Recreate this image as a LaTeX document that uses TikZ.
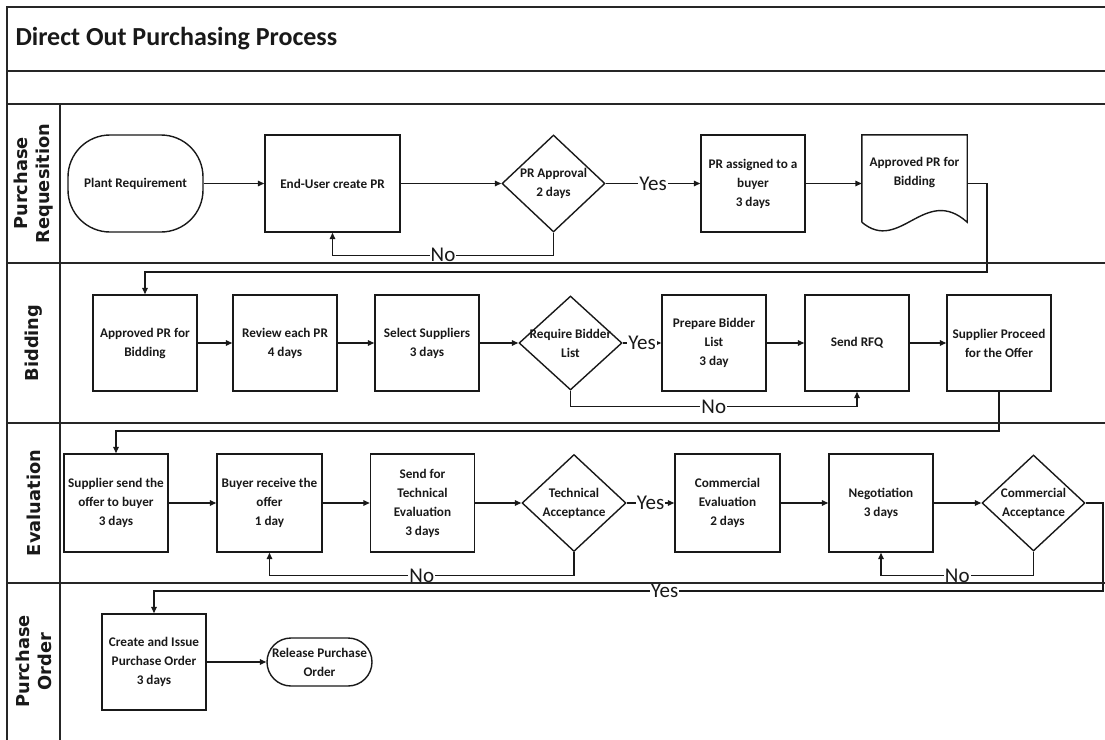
\documentclass[tikz,border=0pt]{standalone}
\usepackage{fontspec}
\newfontfamily\boxfont{Carlito}
\newfontfamily\lanefont{DejaVu Sans}
\usetikzlibrary{arrows.meta,shapes.geometric,calc}

\begin{document}
\begin{tikzpicture}[x=1bp,y=-1bp,
  every node/.style={text=black!90},
  frameline/.style={line width=1.6bp, draw=black!85},
  edge/.style={line width=1.4bp, draw=black!90},
  arr/.style={edge, -{Triangle[length=6.5bp,width=5.5bp]}},
  boxtext/.style={font=\boxfont\bfseries\fontsize{13.2bp}{19bp}\selectfont, align=center},
  proc/.style={boxtext, draw=black!90, line width=1.4bp, rectangle,
    minimum width=104bp, minimum height=96bp, inner sep=1bp},
  term/.style={boxtext, draw=black!90, line width=1.4bp, rectangle,
    inner sep=1bp},
  decision/.style={draw=black!90, line width=1.4bp, diamond, inner sep=0pt,
    minimum width=103bp, minimum height=96bp},
  dtext/.style={boxtext, inner sep=0pt},
  flag/.style={fill=white, inner xsep=1bp, inner ysep=0bp,
    font=\boxfont\fontsize{21bp}{22bp}\selectfont},
  lanetitle/.style={rotate=90, align=center,
    font=\lanefont\bfseries\fontsize{17.8bp}{22bp}\selectfont}
]
\useasboundingbox (0,0) rectangle (1105,740);

% ---------- title ----------
\node[anchor=west, font=\boxfont\bfseries\fontsize{26bp}{30bp}\selectfont]
  (title) at (12,39) {Direct Out Purchasing Process};

% ---------- lane titles ----------
\node[lanetitle] (lanePR)  at (33.5,183.5) {Purchase\\Requesition};
\node[lanetitle] (laneBid) at (33.5,343)   {Bidding};
\node[lanetitle] (laneEv)  at (33.5,503)   {Evaluation};
\node[lanetitle] (lanePO)  at (33.5,661.5) {Purchase\\Order};

% ---------- Purchase Requesition ----------
\node[term, rounded corners=42bp, minimum width=135bp, minimum height=97bp]
  (plant) at (135.5,183.5) {Plant Requirement};
\node[proc, minimum width=135bp, minimum height=97bp]
  (enduser) at (332.5,183.5) {End-User create PR};
\node[decision, minimum height=97bp] (prapp) at (553.5,183.5) {};
\node[dtext] (prappT) at (prapp) {PR Approval\\2 days};
\node[proc, minimum height=97bp] (prassign) at (753,183.5) {PR assigned to a\\buyer\\3 days};
\node[minimum width=105bp, minimum height=97bp, inner sep=0pt] (doc) at (914.5,183.5) {};
\node[dtext] (docT) at (914.5,172) {Approved PR for\\Bidding};
\draw[edge, line join=miter]
  ($(doc.south west)+(0,-10)$) -- (doc.north west) -- (doc.north east)
  -- ($(doc.south east)+(0,-10)$)
  .. controls ($(doc.south west)+(63,-48)$) and ($(doc.south west)+(38,22)$)
  .. ($(doc.south west)+(0,-10)$);

% ---------- Bidding ----------
\node[proc] (apb)     at (145,343)   {Approved PR for\\Bidding};
\node[proc] (review)  at (285,343)   {Review each PR\\4 days};
\node[proc] (select)  at (427,343)   {Select Suppliers\\3 days};
\node[decision, minimum height=94bp] (reqbid) at (570.5,343) {};
\node[dtext] (reqbidT) at (reqbid) {Require Bidder\\List};
\node[proc] (prepare) at (714,343)   {Prepare Bidder\\List\\3 day};
\node[proc] (rfq)     at (857,343)   {Send RFQ};
\node[proc] (supproc) at (999,343)   {Supplier Proceed\\for the Offer};

% ---------- Evaluation ----------
\node[proc, minimum height=98bp] (suppsend) at (116,503)   {Supplier send the\\offer to buyer\\3 days};
\node[proc, minimum height=98bp, minimum width=105bp] (buyer) at (269.5,503) {Buyer receive the\\offer\\1 day};
\node[proc, minimum height=98bp] (sendtech) at (422.5,503) {Send for\\Technical\\Evaluation\\3 days};
\node[decision, minimum width=104bp, minimum height=97bp] (techacc) at (574,503) {};
\node[dtext] (techaccT) at (techacc) {Technical\\Acceptance};
\node[proc, minimum height=98bp, minimum width=105bp] (comeval) at (727.5,503) {Commercial\\Evaluation\\2 days};
\node[proc, minimum height=98bp] (nego) at (881,503) {Negotiation\\3 days};
\node[decision] (comacc) at (1033.5,503) {};
\node[dtext] (comaccT) at (comacc) {Commercial\\Acceptance};

% ---------- Purchase Order ----------
\node[proc] (create) at (154,662) {Create and Issue\\Purchase Order\\3 days};
\node[term, rounded corners=24bp, minimum width=105bp, minimum height=48bp]
  (release) at (319.5,662) {Release Purchase\\Order};

% ---------- routing points ----------
\coordinate (toBid)  at (987,272);
\coordinate (toEval) at (999,431);
\coordinate (toPO)   at (1103,591);

% ---------- connectors ----------
\draw[arr] (plant) -- (enduser);
\draw[arr] (enduser) -- (prapp);
\draw[arr] (prapp) -- (prassign) node[flag, midway] {Yes};
\draw[arr] (prassign) -- (doc);
\draw[arr] (prapp.south) -- ++(0,22.5) -| (enduser.south) node[flag, pos=0.25] {No};
\draw[arr] (doc.east) -| (toBid) -| (apb.north);

\draw[arr] (apb) -- (review);
\draw[arr] (review) -- (select);
\draw[arr] (select) -- (reqbid);
\draw[arr] (reqbid) -- (prepare) node[flag, midway] {Yes};
\draw[arr] (prepare) -- (rfq);
\draw[arr] (rfq) -- (supproc);
\draw[arr] (reqbid.south) -- ++(0,16) -| (rfq.south) node[flag, pos=0.25] {No};
\draw[arr] (supproc.south) -- (toEval) -| (suppsend.north);

\draw[arr] (suppsend) -- (buyer);
\draw[arr] (buyer) -- (sendtech);
\draw[arr] (sendtech) -- (techacc);
\draw[arr] (techacc) -- (comeval) node[flag, midway] {Yes};
\draw[arr] (comeval) -- (nego);
\draw[arr] (nego) -- (comacc);
\draw[arr] (techacc.south) -- ++(0,23.5) -| (buyer.south) node[flag, pos=0.25] {No};
\draw[arr] (comacc.south) -- ++(0,24) -| (nego.south) node[flag, pos=0.25] {No};
\draw[arr] (comacc.east) -| (toPO) -| (create.north) node[flag, pos=0.231] {Yes};

\draw[arr] (create) -- (release);

% ---------- pool and lane lines ----------
\draw[frameline] (7,740) -- (7,7) -- (1105,7);
\draw[frameline] (7,71)  -- (1105,71);
\draw[frameline] (7,104) -- (1105,104);
\draw[frameline] (7,263) -- (1105,263);
\draw[frameline] (7,423) -- (1105,423);
\draw[frameline] (7,583) -- (1105,583);
\draw[frameline] (60,104) -- (60,740);
\end{tikzpicture}
\end{document}
